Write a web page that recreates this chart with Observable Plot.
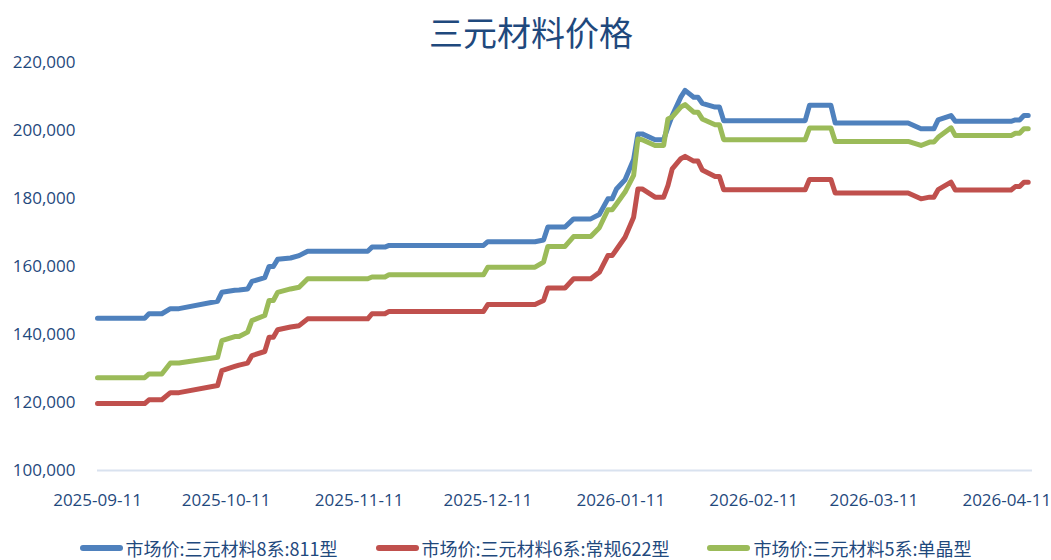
<!DOCTYPE html>
<html>
<head>
<meta charset="utf-8">
<script src="https://cdn.jsdelivr.net/npm/d3@7"></script>
<script src="https://cdn.jsdelivr.net/npm/@observablehq/plot@0.6"></script>
<style>
  html, body { margin: 0; padding: 0; background: #fff; }
  #wrap { position: relative; width: 1051px; height: 560px; overflow: hidden; background: #fff; }
  #title { position: absolute; top: 15px; left: 531px; transform: translateX(-50%); white-space: nowrap;
           font-family: "Noto Sans CJK SC", sans-serif; font-size: 34px; line-height: 34px; color: #1F497D; }
  #chart { position: absolute; top: 50px; left: 0; }
  #legend { position: absolute; top: 536px; left: 0; width: 1051px; height: 24px; display: flex;
            justify-content: center; align-items: center; gap: 38px;
            font-family: "Noto Sans CJK SC", sans-serif; font-size: 18px; color: #1F497D; }
  .item { display: flex; align-items: center; white-space: nowrap; }
  .swatch { display: inline-block; width: 43px; height: 6px; border-radius: 3px; margin-right: 3px; }
</style>
</head>
<body>
<div id="wrap">
  <div id="title"></div>
  <div id="chart"></div>
  <div id="legend"></div>
</div>
<script>
const chartTitle = "三元材料价格";
const seriesNames = ["市场价:三元材料8系:811型", "市场价:三元材料6系:常规622型", "市场价:三元材料5系:单晶型"];
const seriesColors = ["#4F81BD", "#C0504D", "#9BBB59"];

const dates = [
  "2025-09-11","2025-09-22","2025-09-23","2025-09-26","2025-09-28","2025-09-30",
  "2025-10-09","2025-10-10","2025-10-13","2025-10-14","2025-10-16","2025-10-17",
  "2025-10-20","2025-10-21","2025-10-22","2025-10-23","2025-10-26","2025-10-28",
  "2025-10-30","2025-11-13","2025-11-14","2025-11-17","2025-11-18","2025-12-10",
  "2025-12-11","2025-12-22","2025-12-24","2025-12-25","2025-12-29","2025-12-31",
  "2026-01-04","2026-01-06","2026-01-08","2026-01-09","2026-01-10","2026-01-12",
  "2026-01-14","2026-01-15","2026-01-16","2026-01-19","2026-01-21","2026-01-22",
  "2026-01-23","2026-01-25","2026-01-26","2026-01-28","2026-01-29","2026-01-30",
  "2026-02-02","2026-02-03","2026-02-04","2026-02-23","2026-02-24","2026-03-01",
  "2026-03-02","2026-03-19","2026-03-22","2026-03-24","2026-03-25","2026-03-26",
  "2026-03-29","2026-03-30","2026-04-12","2026-04-13","2026-04-14","2026-04-15",
  "2026-04-16"
];

const ncm811 = [
  144800,144800,146100,146100,147600,147600,
  149800,152400,153000,153100,153400,155600,
  156700,160000,160000,162100,162500,163200,
  164500,164500,165700,165700,166200,166200,
  167300,167300,167800,171600,171600,174000,
  174000,175300,179900,179900,182800,185500,
  191500,199000,199000,197300,197300,201000,
  204400,209800,211800,209800,209800,208000,
  206900,206900,202900,202900,207400,207400,
  202200,202200,200500,200500,200500,203100,
  204400,202700,202700,203100,203100,204400,
  204400
];

const ncm622 = [
  119700,119700,120800,120800,122900,122900,
  125000,129400,130600,131000,131600,133800,
  135000,139200,139200,141400,142200,142600,
  144600,144600,146100,146100,146800,146800,
  148800,148800,150000,153700,153700,156400,
  156400,158300,163200,163200,165000,168600,
  174500,182800,182800,180400,180400,183800,
  188700,191700,192400,191000,191000,188400,
  186500,186500,182600,182600,185600,185600,
  181600,181600,179900,180400,180400,182600,
  184800,182500,182500,183500,183500,184800,
  184800
];

const ncm5 = [
  127300,127300,128400,128400,131600,131600,
  133300,138200,139400,139400,140700,144100,
  145600,150000,150000,152400,153400,153900,
  156400,156400,156900,156900,157600,157600,
  159800,159800,161300,165900,165900,168800,
  168800,171400,176700,176700,178400,181900,
  186800,197500,197300,195600,195600,203400,
  204000,206900,207600,205400,205400,203400,
  201700,201700,197300,197300,200700,200700,
  196800,196800,195600,196600,196600,198000,
  200800,198500,198500,199200,199200,200500,
  200500
];

const yTicks = [100000, 120000, 140000, 160000, 180000, 200000, 220000];
const xTickLabels = ["2025-09-11","2025-10-11","2025-11-11","2025-12-11","2026-01-11","2026-02-11","2026-03-11","2026-04-11"];
const xDomain = ["2025-09-11", "2026-04-17"];

const parse = d3.utcParse("%Y-%m-%d");
const rows = [];
[ncm811, ncm622, ncm5].forEach((vals, i) => {
  vals.forEach((v, j) => rows.push({date: parse(dates[j]), value: v, series: seriesNames[i]}));
});

const plot = Plot.plot({
  width: 1051,
  height: 470,
  marginLeft: 97,
  marginRight: 19,
  marginTop: 12,
  marginBottom: 50,
  style: {fontFamily: "'Open Sans', sans-serif", fontSize: "17px", color: "#1F497D", background: "white", overflow: "visible"},
  x: {type: "utc", domain: xDomain.map(parse), ticks: xTickLabels.map(parse), tickFormat: d3.utcFormat("%Y-%m-%d"),
      tickSize: 0, tickPadding: 23, label: null},
  y: {domain: [yTicks[0], yTicks[yTicks.length - 1]], ticks: yTicks, tickFormat: d3.format(","),
      tickSize: 0, tickPadding: 22, label: null},
  color: {domain: seriesNames, range: seriesColors},
  marks: [
    Plot.ruleY([yTicks[0]], {stroke: "#D9E2EF", strokeWidth: 2}),
    Plot.lineY(rows, {x: "date", y: "value", z: "series", stroke: "series", strokeWidth: 5,
                      strokeLinecap: "round", strokeLinejoin: "round"})
  ]
});
document.getElementById("chart").appendChild(plot);
document.getElementById("title").textContent = chartTitle;

const legend = document.getElementById("legend");
seriesNames.forEach((name, i) => {
  const item = document.createElement("div");
  item.className = "item";
  const sw = document.createElement("span");
  sw.className = "swatch";
  sw.style.background = seriesColors[i];
  const txt = document.createElement("span");
  txt.textContent = name;
  item.appendChild(sw);
  item.appendChild(txt);
  legend.appendChild(item);
});
</script>
</body>
</html>
